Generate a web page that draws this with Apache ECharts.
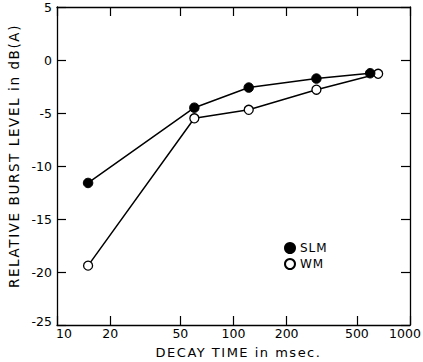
<!DOCTYPE html>
<html>
<head>
<meta charset="utf-8">
<script src="https://cdn.jsdelivr.net/npm/echarts@6/dist/echarts.min.js"></script>
<style>
  html, body { margin: 0; padding: 0; background: #fff; }
  #chart { width: 423px; height: 362px; }
  /* widely tracked lettering for the axis titles and legend */
  #chart text[style*="13px"] { letter-spacing: 1.5px; }
  #chart text[style*="13.5px"] { letter-spacing: 1.6px; }
  #chart text[style*="12px"] { letter-spacing: 1px; }
</style>
</head>
<body>
<div id="chart"></div>
<script>
// Decay time (ms) for each measured point
const slmTimes = [15, 60, 122, 295, 595];
const wmTimes = [15, 60, 122, 295, 660];
// Relative burst level, dB(A)
const slmLevels = [-11.6, -4.5, -2.6, -1.75, -1.25];
const wmLevels = [-19.4, -5.5, -4.7, -2.8, -1.3];
// Axis tick positions
const xTicks = [10, 20, 50, 100, 200, 500, 1000];
const yTicks = [-25, -20, -15, -10, -5, 0, 5];

const FONT = 'DejaVu Sans';
const chart = echarts.init(document.getElementById('chart'), null, { renderer: 'svg' });

const pairs = (xs, ys) => xs.map((x, i) => [x, ys[i]]);

const tickStyle = { inside: true, length: 9, lineStyle: { color: '#000', width: 1.2 } };
const lineStyle = { color: '#000', width: 1.3 };
const labelFont = { fontFamily: FONT, fontSize: 12.5, color: '#000' };

chart.setOption({
  animation: false,
  backgroundColor: '#fff',
  grid: { left: 57, right: 13, top: 7, bottom: 37, outerBoundsMode: 'none' },
  legend: {
    orient: 'vertical',
    left: 279, top: 237,
    itemWidth: 10, itemHeight: 10, itemGap: 4,
    textStyle: { fontFamily: FONT, fontSize: 12, color: '#000' },
    data: [
      { name: 'SLM', icon: 'circle' },
      { name: 'WM', icon: 'circle' }
    ]
  },
  xAxis: [
    {
      type: 'log', logBase: 10, min: 10, max: 1000, position: 'bottom',
      name: 'DECAY TIME in msec.', nameLocation: 'middle', nameGap: 21,
      nameTextStyle: { fontFamily: FONT, fontSize: 13, color: '#000', padding: [0, 0, 0, 10] },
      axisLine: { onZero: false, lineStyle },
      axisTick: Object.assign({ customValues: xTicks }, tickStyle),
      axisLabel: Object.assign({
        customValues: xTicks, margin: 2,
        formatter: v => {
          if (v === xTicks[0]) return '{first|' + v + '}';
          if (v === xTicks[xTicks.length - 1]) return '{last|' + v + '}';
          return String(v);
        },
        rich: {
          first: Object.assign({ padding: [0, 0, 0, 14] }, labelFont),
          last: Object.assign({ padding: [0, 10, 0, 0] }, labelFont)
        }
      }, labelFont),
      splitLine: { show: false }, minorTick: { show: false }
    },
    {
      type: 'log', logBase: 10, min: 10, max: 1000, position: 'top',
      axisLine: { onZero: false, lineStyle },
      axisTick: Object.assign({ customValues: xTicks }, tickStyle),
      axisLabel: { show: false },
      splitLine: { show: false }
    }
  ],
  yAxis: [
    {
      type: 'value', min: -25, max: 5, interval: 5, position: 'left',
      name: 'RELATIVE BURST LEVEL in dB(A)', nameLocation: 'middle', nameGap: 26,
      nameTextStyle: { fontFamily: FONT, fontSize: 13.5, color: '#000', padding: [0, 0, 0, 20] },
      axisLine: { show: true, onZero: false, lineStyle },
      axisTick: tickStyle,
      axisLabel: Object.assign({
        margin: 5,
        formatter: v => v === yTicks[0] ? '{low|' + v + '}' : String(v),
        rich: { low: Object.assign({ padding: [0, 0, 8, 0] }, labelFont) }
      }, labelFont),
      splitLine: { show: false }
    },
    {
      type: 'value', min: -25, max: 5, interval: 5, position: 'right',
      axisLine: { show: true, onZero: false, lineStyle },
      axisTick: tickStyle,
      axisLabel: { show: false },
      splitLine: { show: false }
    }
  ],
  series: [
    {
      name: 'WM', type: 'line', data: pairs(wmTimes, wmLevels),
      symbol: 'circle', symbolSize: 9,
      lineStyle: { color: '#000', width: 1.5 },
      itemStyle: { color: '#fff', borderColor: '#000', borderWidth: 1.3 }
    },
    {
      name: 'SLM', type: 'line', data: pairs(slmTimes, slmLevels),
      symbol: 'circle', symbolSize: 9.5,
      lineStyle: { color: '#000', width: 1.5 },
      itemStyle: { color: '#000', borderColor: '#000', borderWidth: 1 }
    }
  ]
});
</script>
</body>
</html>
